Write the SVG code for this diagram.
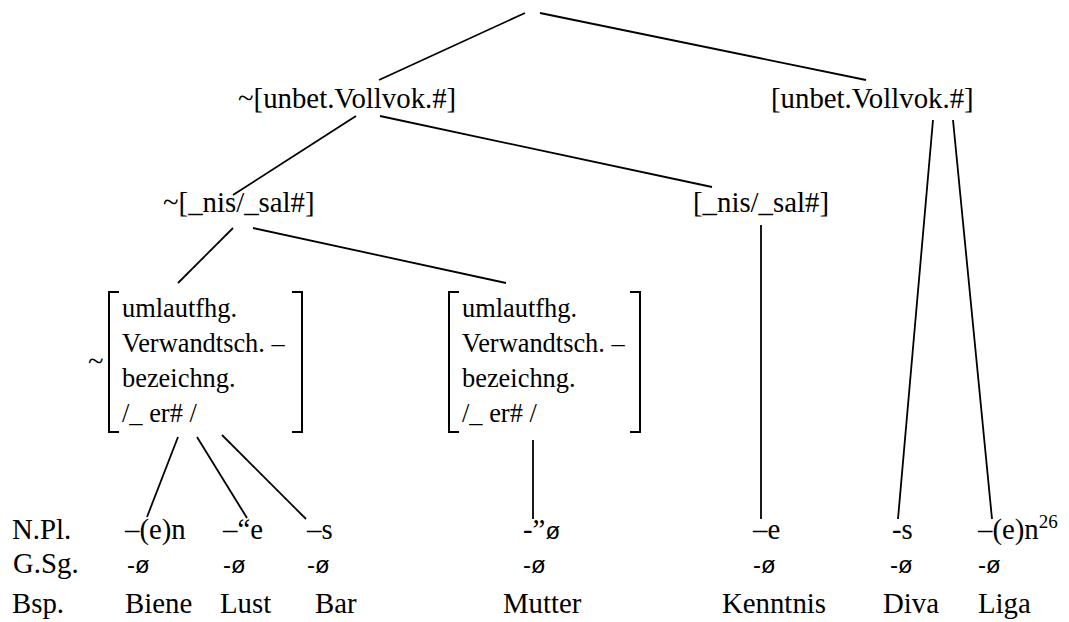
<svg xmlns="http://www.w3.org/2000/svg" width="1069" height="622" viewBox="0 0 1069 622">
<style>
.t{font-family:"Liberation Serif","Times New Roman",Times,serif;font-size:28.8px;fill:#000}
.b{font-family:"Liberation Serif","Times New Roman",Times,serif;font-size:26.4px;fill:#000}
.s{font-family:"Liberation Sans",Arial,sans-serif;font-size:24px;fill:#000}
.sup{font-size:19px}
.ln{stroke:#000;stroke-width:1.8;fill:none}
.br{stroke:#000;stroke-width:2;fill:none}
</style>
<rect width="1069" height="622" fill="#fff"/>
<g id="connectors" class="ln">
<line x1="525" y1="13" x2="379" y2="80"/>
<line x1="540" y1="13" x2="866" y2="80"/>
<line x1="356" y1="116" x2="233" y2="195"/>
<line x1="380" y1="116" x2="712" y2="187"/>
<line x1="933" y1="120" x2="898" y2="519"/>
<line x1="953" y1="120" x2="992" y2="519"/>
<line x1="233" y1="228" x2="178" y2="283"/>
<line x1="253" y1="228" x2="506" y2="283"/>
<line x1="761" y1="225" x2="761" y2="519"/>
<line x1="178" y1="437" x2="147" y2="517"/>
<line x1="197" y1="437" x2="247" y2="518"/>
<line x1="222" y1="435" x2="306" y2="519"/>
<line x1="533" y1="440" x2="533" y2="519"/>
</g>
<g id="node-left1"><text class="t" x="238" y="108">~[unbet.Vollvok.#]</text></g>
<g id="node-right1"><text class="t" x="771" y="108">[unbet.Vollvok.#]</text></g>
<g id="node-left2"><text class="t" x="163" y="212">~[_nis/_sal#]</text></g>
<g id="node-right2"><text class="t" x="693" y="212">[_nis/_sal#]</text></g>
<g id="node-bracket1">
<text class="t" x="88" y="371">~</text>
<path class="br" d="M119,292 H109 V432 H119"/>
<path class="br" d="M292,292 H302 V432 H292"/>
<text class="b" x="122" y="317">umlautfhg.</text>
<text class="b" x="122" y="352">Verwandtsch. –</text>
<text class="b" x="122" y="387">bezeichng.</text>
<text class="b" x="122" y="422">/_ er# /</text>
</g>
<g id="node-bracket2">
<path class="br" d="M459,292 H449 V432 H459"/>
<path class="br" d="M630,292 H640 V432 H630"/>
<text class="b" x="462" y="317">umlautfhg.</text>
<text class="b" x="462" y="352">Verwandtsch. –</text>
<text class="b" x="462" y="387">bezeichng.</text>
<text class="b" x="462" y="422">/_ er# /</text>
</g>
<g id="row-npl">
<text class="t" x="12" y="539">N.Pl.</text>
<text class="t" x="125" y="539">–(e)n</text>
<text class="t" x="223" y="539">–“e</text>
<text class="t" x="307" y="539">–s</text>
<text class="t" x="523" y="539">-”<tspan class="s">ø</tspan></text>
<text class="t" x="753" y="539">–e</text>
<text class="t" x="892" y="539">-s</text>
<text class="t" x="978" y="539">–(e)n<tspan class="sup" dy="-11">26</tspan></text>
</g>
<g id="row-gsg">
<text class="t" x="13" y="573">G.Sg.</text>
<text class="s" x="127" y="573">-ø</text>
<text class="s" x="223" y="573">-ø</text>
<text class="s" x="307" y="573">-ø</text>
<text class="s" x="523" y="573">-ø</text>
<text class="s" x="753" y="573">-ø</text>
<text class="s" x="890" y="573">-ø</text>
<text class="s" x="978" y="573">-ø</text>
</g>
<g id="row-bsp">
<text class="t" x="12" y="613">Bsp.</text>
<text class="t" x="125" y="613">Biene</text>
<text class="t" x="220" y="613">Lust</text>
<text class="t" x="315" y="613">Bar</text>
<text class="t" x="503" y="613">Mutter</text>
<text class="t" x="722" y="613">Kenntnis</text>
<text class="t" x="883" y="613">Diva</text>
<text class="t" x="978" y="613">Liga</text>
</g>
</svg>
